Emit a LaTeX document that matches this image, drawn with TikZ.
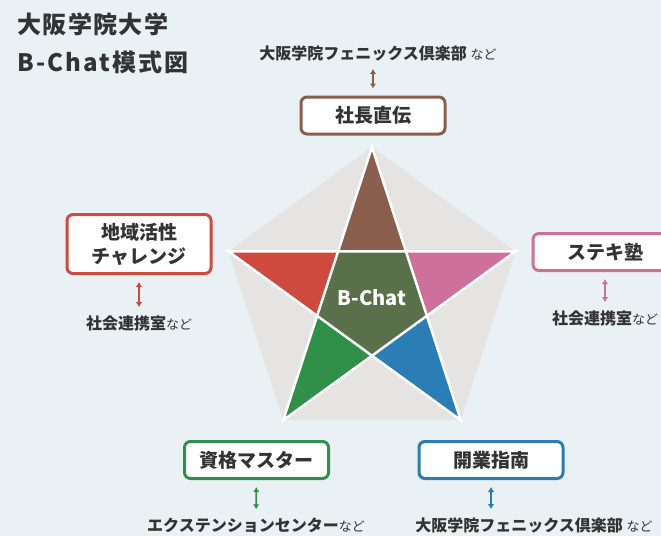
\documentclass[tikz,border=0pt]{standalone}
\usepackage{fontspec}
\setmainfont{Noto Sans CJK JP}
\usetikzlibrary{calc,arrows.meta}
\definecolor{bgblue}{HTML}{E9F1F4}
\definecolor{pentgray}{HTML}{E5E4E2}
\definecolor{ink}{HTML}{333333}
\definecolor{cbrown}{HTML}{8A5E4C}
\definecolor{cpink}{HTML}{CD709C}
\definecolor{cblue}{HTML}{2A7DB5}
\definecolor{cgreen}{HTML}{30904A}
\definecolor{cred}{HTML}{CF4A3E}
\definecolor{ccore}{HTML}{5A704A}
\tikzset{
  keybox/.style={draw=#1, line width=3pt, fill=white, rounded corners=6pt,
    minimum width=144pt, minimum height=37pt, align=center, text=ink,
    font=\fontsize{19}{24}\selectfont\bfseries},
  partner/.style={text=ink, inner sep=1pt, font=\fontsize{16}{18}\selectfont\bfseries},
  heading/.style={anchor=west, text=ink, inner sep=0pt,
    font=\fontsize{24}{30}\selectfont\bfseries\addfontfeatures{LetterSpace=#1}},
  heading/.default=6,
  link/.style={{Latex[length=5pt,width=6.5pt]}-{Latex[length=5pt,width=6.5pt]}, #1,
    line width=1.6pt, shorten >=7pt, shorten <=7pt},
}
\newcommand{\nado}{{\fontsize{13}{16}\selectfont\mdseries など}}
\begin{document}
\begin{tikzpicture}[x=1pt,y=-1pt]
\useasboundingbox[fill=bgblue] (0,0) rectangle (661,536);
% title
\node[heading] (title1) at (17,24) {大阪学院大学};
\node[heading=9] (title2) at (17,62) {B-Chat模式図};
% pentagon and star
\coordinate (c) at (372,298);
\foreach \a [count=\i] in {-90,-18,54,126,198} % outer points
  \coordinate (p\i) at ($(c)+(\a:151)$);
\foreach \a [count=\i] in {-54,18,90,162,234} % inner points
  \coordinate (q\i) at ($(c)+(\a:57.7)$);
\fill[pentgray] (p1) -- (p2) -- (p3) -- (p4) -- (p5) -- cycle;
\fill[ccore] (q1) -- (q2) -- (q3) -- (q4) -- (q5) -- cycle;
\fill[cbrown] (p1) -- (q1) -- (q5) -- cycle;
\fill[cpink] (p2) -- (q2) -- (q1) -- cycle;
\fill[cblue] (p3) -- (q3) -- (q2) -- cycle;
\fill[cgreen] (p4) -- (q4) -- (q3) -- cycle;
\fill[cred] (p5) -- (q5) -- (q4) -- cycle;
\draw[white, line width=2.5pt, line join=miter] (p1) -- (p3) -- (p5) -- (p2) -- (p4) -- cycle;
\node[text=white, font=\fontsize{20}{22}\selectfont\bfseries] (core) at (c) {B-Chat};
% activities
\node[keybox=cbrown] (direct) at (373,115.5) {社長直伝};
\node[keybox=cred, minimum height=59pt] (region) at (139,244) {地域活性\\チャレンジ};
\node[keybox=cpink] (suteki) at (605,252) {ステキ塾};
\node[keybox=cgreen] (license) at (256.5,460) {資格マスター};
\node[keybox=cblue] (startup) at (491,460) {開業指南};
% partners
\node[partner] (phoenixA) at (378,53) {大阪学院フェニックス倶楽部 \nado};
\node[partner] (socialA) at (139,323) {社会連携室\nado};
\node[partner] (socialB) at (605,318) {社会連携室\nado};
\node[partner] (extension) at (256,525) {エクステンションセンター\nado};
\node[partner] (phoenixB) at (534,525) {大阪学院フェニックス倶楽部 \nado};
% links
\draw[link=cbrown] (phoenixA.south -| direct) -- (direct);
\draw[link=cred] (region) -- (socialA);
\draw[link=cpink] (suteki) -- (socialB.north -| suteki);
\draw[link=cgreen] (license) -- (extension);
\draw[link=cblue] (startup) -- (phoenixB.north -| startup);
\end{tikzpicture}
\end{document}
